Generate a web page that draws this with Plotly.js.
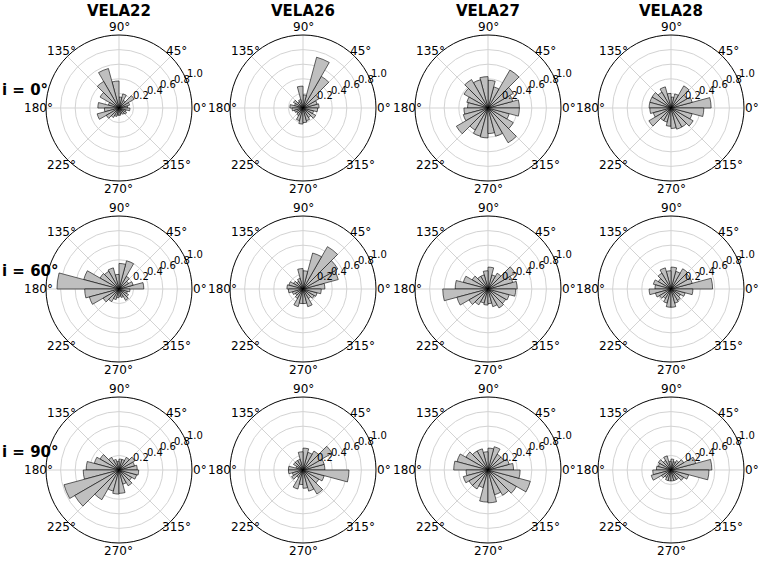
<!DOCTYPE html>
<html>
<head>
<meta charset="utf-8">
<script src="https://cdn.plot.ly/plotly-3.0.1.min.js"></script>
<style>html,body{margin:0;padding:0;background:#fff;}#chart{width:764px;height:561px;}</style>
</head>
<body>
<div id="chart"></div>
<script>
// ---- data ----
var simulations = ["VELA22", "VELA26", "VELA27", "VELA28"];
var inclinations = ["i = 0°", "i = 60°", "i = 90°"];
// bin centres (degrees), 15° bins
var binCenters = [7.5,22.5,37.5,52.5,67.5,82.5,97.5,112.5,127.5,142.5,157.5,172.5,
                  187.5,202.5,217.5,232.5,247.5,262.5,277.5,292.5,307.5,322.5,337.5,352.5];
var binWidth = 15;
var angTickVals = [0,45,90,135,180,225,270,315];
var angTickText = ["0°","45°","90°","135°","180°","225°","270°","315°"];
var radTickVals = [0.2,0.4,0.6,0.8,1.0];
var radTickText = ["0.2","0.4","0.6","0.8","1.0"];

// i = 0
var vela22_i0 = [0.12,0.15,0.24,0.12,0.20,0.15,0.37,0.56,0.42,0.30,0.15,0.29,
                 0.20,0.31,0.20,0.15,0.12,0.10,0.10,0.08,0.10,0.12,0.10,0.15];
var vela26_i0 = [0.22,0.20,0.25,0.50,0.72,0.18,0.30,0.12,0.10,0.15,0.12,0.18,
                 0.15,0.12,0.10,0.12,0.18,0.22,0.20,0.18,0.15,0.20,0.15,0.20];
var vela27_i0 = [0.43,0.35,0.40,0.60,0.30,0.38,0.43,0.40,0.45,0.38,0.30,0.28,
                 0.33,0.35,0.50,0.35,0.40,0.41,0.35,0.40,0.55,0.40,0.30,0.43];
var vela28_i0 = [0.55,0.30,0.25,0.35,0.20,0.15,0.20,0.30,0.25,0.30,0.30,0.30,
                 0.29,0.25,0.35,0.20,0.20,0.25,0.28,0.30,0.30,0.35,0.30,0.45];
// i = 60
var vela22_i60 = [0.34,0.20,0.15,0.20,0.40,0.35,0.20,0.30,0.28,0.30,0.50,0.85,
                  0.47,0.42,0.25,0.20,0.15,0.12,0.10,0.12,0.18,0.15,0.12,0.15];
var vela26_i60 = [0.30,0.50,0.55,0.67,0.51,0.25,0.28,0.15,0.12,0.15,0.20,0.22,
                  0.20,0.15,0.12,0.15,0.25,0.20,0.20,0.25,0.15,0.18,0.20,0.25];
var vela27_i60 = [0.40,0.35,0.43,0.25,0.20,0.30,0.25,0.20,0.20,0.25,0.35,0.45,
                  0.62,0.44,0.30,0.25,0.20,0.22,0.20,0.25,0.30,0.28,0.30,0.38];
var vela28_i60 = [0.57,0.30,0.30,0.32,0.25,0.30,0.25,0.30,0.25,0.20,0.25,0.22,
                  0.30,0.22,0.18,0.15,0.20,0.25,0.25,0.20,0.18,0.15,0.20,0.30];
// i = 90
var vela22_i90 = [0.25,0.22,0.25,0.20,0.15,0.15,0.12,0.15,0.20,0.30,0.35,0.45,
                  0.49,0.78,0.70,0.47,0.30,0.33,0.32,0.20,0.25,0.20,0.25,0.27];
var vela26_i90 = [0.30,0.30,0.46,0.30,0.25,0.30,0.25,0.15,0.15,0.15,0.10,0.20,
                  0.20,0.15,0.18,0.12,0.27,0.20,0.25,0.30,0.38,0.25,0.30,0.63];
var vela27_i90 = [0.35,0.30,0.25,0.25,0.33,0.30,0.25,0.30,0.30,0.35,0.44,0.47,
                  0.30,0.35,0.30,0.30,0.25,0.44,0.45,0.35,0.40,0.45,0.60,0.44];
var vela28_i90 = [0.56,0.35,0.20,0.15,0.12,0.15,0.12,0.20,0.15,0.20,0.18,0.20,
                  0.25,0.28,0.15,0.12,0.15,0.15,0.15,0.15,0.15,0.20,0.25,0.52];

var panelValues = [
  [vela22_i0, vela26_i0, vela27_i0, vela28_i0],
  [vela22_i60, vela26_i60, vela27_i60, vela28_i60],
  [vela22_i90, vela26_i90, vela27_i90, vela28_i90]
];

// ---- layout ----
var W = 764, H = 561, R = 73;
var colCx = [119, 303, 488, 671];
var rowCy = [108, 289, 470];
var FONT = "DejaVu Sans, sans-serif";
var RAD_ANGLE = 22.5;

var traces = [];
var layout = {
  width: W, height: H,
  margin: {l:0, r:0, t:0, b:0},
  paper_bgcolor: "#fff",
  showlegend: false,
  hovermode: false,
  font: {family: FONT, size: 12, color: "#000"},
  annotations: []
};

function px2paper(x, y) { return {x: x / W, y: 1 - y / H}; }

var k = 0;
for (var r = 0; r < 3; r++) {
  for (var c = 0; c < 4; c++) {
    k++;
    var pname = k === 1 ? "polar" : "polar" + k;
    traces.push({
      type: "barpolar",
      r: panelValues[r][c],
      theta: binCenters,
      width: binCenters.map(function(){ return binWidth; }),
      subplot: pname,
      marker: {color: "#bfbfbf", line: {color: "#000", width: 0.6}},
      hoverinfo: "skip"
    });
    var cx = colCx[c], cy = rowCy[r];
    layout[pname] = {
      domain: {
        x: [(cx - R) / W, (cx + R) / W],
        y: [1 - (cy + R) / H, 1 - (cy - R) / H]
      },
      bgcolor: "#fff",
      angularaxis: {
        rotation: 0, direction: "counterclockwise",
        tickmode: "array", tickvals: angTickVals, ticktext: angTickText,
        showticklabels: false,
        ticks: "", showline: true, linecolor: "#000", linewidth: 1,
        gridcolor: "#d3d3d3", gridwidth: 1
      },
      radialaxis: {
        range: [0, 1], angle: RAD_ANGLE,
        tickmode: "array", tickvals: radTickVals, ticktext: radTickText,
        showticklabels: false, showline: false, ticks: "",
        gridcolor: "#d3d3d3", gridwidth: 1
      }
    };
    // angular tick labels (centred just outside the circle)
    var dLab = R + 8;
    for (var a = 0; a < angTickVals.length; a++) {
      var th = angTickVals[a] * Math.PI / 180;
      var p = px2paper(cx + dLab * Math.cos(th), cy - dLab * Math.sin(th));
      layout.annotations.push({
        text: angTickText[a], x: p.x, y: p.y, xref: "paper", yref: "paper",
        xanchor: "center", yanchor: "middle", showarrow: false, borderpad: 0,
        font: {family: FONT, size: 12, color: "#000"}
      });
    }
    // radial tick labels, horizontal, anchored at the ring along 22.5°
    var ra = RAD_ANGLE * Math.PI / 180;
    for (var t = 0; t < radTickVals.length; t++) {
      var dr = radTickVals[t] * R;
      var q = px2paper(cx + dr * Math.cos(ra), cy - dr * Math.sin(ra));
      layout.annotations.push({
        text: radTickText[t], x: q.x, y: q.y, xref: "paper", yref: "paper",
        xanchor: "left", yanchor: "bottom", showarrow: false, borderpad: 0,
        font: {family: FONT, size: 10, color: "#000"}
      });
    }
  }
}

for (var c2 = 0; c2 < 4; c2++) {
  var pt = px2paper(colCx[c2], 11);
  layout.annotations.push({
    text: "<b>" + simulations[c2] + "</b>",
    x: pt.x, y: pt.y, xref: "paper", yref: "paper",
    xanchor: "center", yanchor: "middle", showarrow: false,
    font: {family: FONT, size: 15, color: "#000"}
  });
}
var rowLabelY = [90, 271, 452];
for (var r2 = 0; r2 < 3; r2++) {
  var pr = px2paper(1, rowLabelY[r2]);
  layout.annotations.push({
    text: "<b>" + inclinations[r2] + "</b>",
    x: pr.x, y: pr.y, xref: "paper", yref: "paper",
    xanchor: "left", yanchor: "middle", showarrow: false, borderpad: 0,
    font: {family: FONT, size: 15, color: "#000"}
  });
}

Plotly.newPlot("chart", traces, layout, {staticPlot: true, displayModeBar: false});
</script>
</body>
</html>
